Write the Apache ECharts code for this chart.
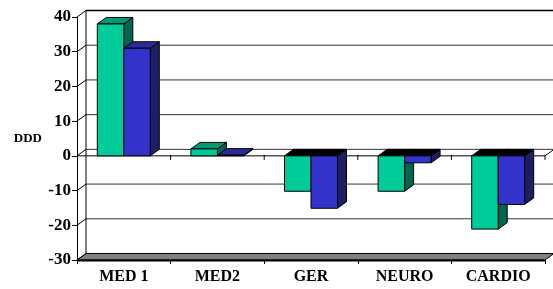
<!DOCTYPE html>
<html>
<head>
<meta charset="utf-8">
<script src="https://cdn.jsdelivr.net/npm/echarts@6/dist/echarts.min.js"></script>
<style>
  html, body { margin: 0; padding: 0; background: #fff; }
  #chart { width: 553px; height: 289px; }
</style>
</head>
<body>
<div id="chart"></div>
<script>
// data
var categories = ['MED 1', 'MED2', 'GER', 'NEURO', 'CARDIO'];
var greenValues = [38, 2, -10.2, -10.2, -21.1];
var blueValues = [31, 0.2, -15.1, -2, -14];
var yTicks = [-30, -20, -10, 0, 10, 20, 30, 40];

var DX = 9, DY = -6.5;   // depth offset of the 3d box
var FONT = '"Liberation Serif", "Times New Roman", serif';

var faceColors = [
    { front: '#00CC99', top: '#009977', side: '#006650' },
    { front: '#3333CC', top: '#2B2B99', side: '#1E1E66' }
];

function toData(arr) {
    var out = [];
    for (var i = 0; i < arr.length; i++) {
        out.push([i, arr[i]]);
    }
    return out;
}

function line(x1, y1, x2, y2, color, w) {
    return { type: 'line', shape: { x1: x1, y1: y1, x2: x2, y2: y2 },
        style: { stroke: color, lineWidth: w || 1 } };
}

function poly(points, fill) {
    return { type: 'polygon', shape: { points: points },
        style: { fill: fill, stroke: '#000', lineWidth: 1 } };
}

// walls, floor, gridlines
function renderFrame(params, api) {
    var cs = params.coordSys;
    var x0 = cs.x, x1 = cs.x + cs.width;
    var bw = api.size([1, 0])[0];
    var kids = [];
    var yMin = api.coord([0, yTicks[0]])[1];
    var yMax = api.coord([0, yTicks[yTicks.length - 1]])[1];
    var y0 = api.coord([0, 0])[1];

    // floor at -30
    kids.push(poly([[x0, yMin], [x1, yMin], [x1 + DX, yMin + DY], [x0 + DX, yMin + DY]], '#808080'));
    kids.push(line(x0, yMin + 0.5, x1, yMin + 0.5, '#000', 2));

    // back wall gridlines + side wall diagonals
    for (var i = 1; i < yTicks.length; i++) {
        var y = api.coord([0, yTicks[i]])[1];
        var top = i == yTicks.length - 1;
        kids.push(line(x0 + DX, y + DY, x1 + DX + 20, y + DY, top ? '#000' : '#333', top ? 1.5 : 1));
        kids.push(line(x0, y, x0 + DX, y + DY, '#000', 1));
    }
    kids.push(line(x0, yMin, x0 + DX, yMin + DY, '#000', 1));
    // back wall left edge
    kids.push(line(x0 + DX, yMax + DY, x0 + DX, yMin + DY, '#000', 1));

    // zero plane
    kids.push(line(x0, y0, x1, y0, '#000', 1));
    kids.push(line(x1, y0, x1 + DX, y0 + DY, '#000', 1));
    for (var k = 1; k <= categories.length; k++) {
        var xt = x0 + bw * k;
        kids.push(line(xt, y0 - 1, xt, y0 + 4, '#000', 1));
    }
    return { type: 'group', children: kids };
}

function makeBarRenderer(idx) {
    return function (params, api) {
        var c = api.value(0), v = api.value(1);
        var base = api.coord([c, 0]);
        var yv = api.coord([c, v])[1];
        var y0 = base[1];
        var bw = api.size([1, 0])[0];
        var barW = bw * 0.283;
        var xl = base[0] - barW + idx * barW;
        var xr = xl + barW;
        var col = faceColors[idx];
        var kids = [];
        var yTop = Math.min(y0, yv), yBot = Math.max(y0, yv);
        // side face
        kids.push(poly([[xr, yTop], [xr, yBot], [xr + DX, yBot + DY], [xr + DX, yTop + DY]], col.side));
        // top face
        kids.push(poly([[xl, yTop], [xr, yTop], [xr + DX, yTop + DY], [xl + DX, yTop + DY]], v >= 0 ? col.top : '#000'));
        // front face
        if (yBot - yTop > 0.5) {
            kids.push({ type: 'rect', shape: { x: xl, y: yTop, width: barW, height: yBot - yTop },
                style: { fill: col.front, stroke: '#000', lineWidth: 1 } });
        }
        return { type: 'group', children: kids };
    };
}

var option = {
    animation: false,
    grid: { left: 77, right: 8, top: 17, bottom: 29 },
    xAxis: {
        type: 'category',
        data: categories,
        axisLine: { show: false, onZero: false },
        axisTick: { show: true, length: 4, lineStyle: { color: '#000' } },
        axisLabel: { margin: 9, color: '#000', fontFamily: FONT, fontWeight: 'bold', fontSize: 16 },
        splitLine: { show: false }
    },
    yAxis: {
        type: 'value',
        min: -30,
        max: 40,
        interval: 10,
        name: 'DDD',
        nameLocation: 'middle',
        nameRotate: 0,
        nameGap: 35,
        nameTextStyle: { color: '#000', fontFamily: FONT, fontWeight: 'bold', fontSize: 13, align: 'right' },
        axisLine: { show: true, lineStyle: { color: '#000' } },
        axisTick: { show: true, length: 5, lineStyle: { color: '#000' } },
        axisLabel: { margin: 6, color: '#000', fontFamily: FONT, fontWeight: 'bold', fontSize: 17 },
        splitLine: { show: false }
    },
    series: [
        {
            type: 'custom',
            z: 1,
            renderItem: renderFrame,
            data: [[0, 0]],
            silent: true
        },
        {
            type: 'custom',
            z: 2,
            renderItem: makeBarRenderer(0),
            data: toData(greenValues)
        },
        {
            type: 'custom',
            z: 3,
            renderItem: makeBarRenderer(1),
            data: toData(blueValues)
        }
    ]
};

var myChart = echarts.init(document.getElementById('chart'));
myChart.setOption(option);
</script>
</body>
</html>
